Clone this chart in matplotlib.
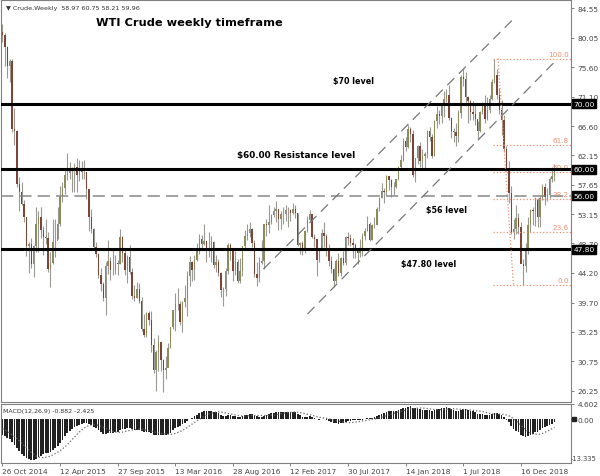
import numpy as np
import pandas as pd
import matplotlib
matplotlib.use('Agg')
import matplotlib.pyplot as plt

# 周线数据, 第一根 = 2014-10-26 那一周
start_date = '2014-10-26'

# 图表之前的收盘价 (只用于 MACD 预热)
warmup_close = [99.76, 100.0, 102.02, 104.35, 102.71, 102.66, 106.91, 107.26, 105.74, 104.06,
                100.83, 103.13, 102.09, 97.88, 97.65, 97.35, 93.65, 95.96, 93.29, 92.27,
                92.41, 93.54, 89.74, 85.82, 82.75, 81.01]

close = [80.54, 78.65, 75.82, 76.51, 66.15, 65.84, 57.81, 56.52, 54.73, 52.69,
         48.36, 48.69, 45.59, 48.24, 51.69, 52.78, 50.81, 49.76, 49.61, 44.84,
         45.72, 48.87, 49.14, 51.64, 55.74, 57.15, 59.15, 59.39, 59.69, 59.72,
         60.30, 59.13, 59.96, 59.61, 59.63, 56.93, 52.74, 50.89, 48.14, 47.12,
         43.87, 42.50, 40.45, 45.22, 46.05, 44.63, 44.68, 45.70, 45.54, 49.63,
         47.26, 44.60, 46.59, 44.29, 40.74, 40.39, 41.71, 39.97, 35.62, 34.73,
         38.10, 37.04, 33.16, 29.42, 32.19, 33.62, 30.89, 29.44, 29.64, 32.78,
         35.92, 38.50, 39.44, 39.46, 36.79, 39.72, 40.36, 43.73, 45.92, 44.66,
         46.21, 47.75, 49.33, 48.62, 49.07, 47.98, 47.64, 48.99, 45.41, 45.95,
         44.19, 41.60, 41.80, 44.49, 48.52, 47.64, 44.44, 45.88, 43.03, 44.48,
         48.24, 49.81, 50.35, 50.85, 48.70, 44.07, 43.41, 45.69, 46.06, 51.68,
         51.50, 51.90, 53.02, 53.72, 53.99, 52.37, 53.22, 53.17, 53.83, 53.86,
         53.40, 53.99, 53.33, 48.49, 48.78, 47.97, 50.60, 52.24, 53.18, 49.62,
         49.33, 46.22, 47.84, 50.33, 49.80, 47.66, 46.08, 44.74, 43.01, 46.04,
         44.23, 46.54, 45.77, 49.71, 49.58, 48.82, 48.51, 47.87, 47.29, 47.48,
         49.89, 50.66, 51.67, 49.29, 51.45, 51.47, 53.90, 55.64, 56.74, 56.55,
         58.95, 58.36, 57.36, 57.30, 58.47, 60.42, 61.44, 64.30, 63.37, 66.14,
         65.45, 59.20, 61.68, 63.55, 61.25, 62.04, 62.34, 65.88, 64.94, 62.06,
         67.39, 68.38, 68.10, 69.72, 70.70, 71.28, 67.88, 65.81, 65.74, 65.06,
         68.58, 74.15, 73.80, 71.01, 70.46, 68.69, 68.49, 67.63, 65.91, 68.72,
         69.80, 67.75, 68.99, 70.78, 73.25, 74.34, 71.34, 69.12, 67.59, 63.14,
         60.19, 56.46, 50.42, 50.93, 52.61, 51.20, 45.59, 45.33, 47.96, 51.59,
         53.80, 53.69, 55.26, 52.72, 55.59, 57.26, 55.80, 56.07, 58.52, 59.04,
         59.96]

high = [82.2, 80.8, 78.8, 76.9, 76.8, 69.4, 66.0, 58.8, 58.0, 55.4,
        52.7, 49.0, 49.5, 48.4, 54.2, 53.6, 54.2, 51.3, 52.5, 50.5,
        47.4, 52.5, 52.5, 54.2, 57.4, 58.0, 59.9, 62.5, 61.1, 60.3,
        60.9, 61.8, 61.4, 61.2, 61.5, 59.6, 56.2, 54.0, 51.1, 49.0,
        47.2, 44.9, 42.9, 45.9, 49.3, 46.6, 47.7, 47.0, 46.2, 50.9,
        49.9, 47.7, 47.0, 48.4, 45.0, 42.4, 42.8, 42.6, 40.5, 37.9,
        38.3, 38.4, 38.4, 34.3, 32.4, 34.8, 33.5, 31.1, 31.5, 33.5,
        36.0, 38.6, 41.2, 41.9, 39.9, 39.9, 42.4, 44.5, 46.8, 46.0,
        47.0, 48.8, 50.2, 50.0, 51.7, 49.1, 50.5, 49.8, 49.1, 47.0,
        46.4, 44.3, 42.0, 44.9, 48.8, 48.7, 48.0, 47.6, 46.3, 46.5,
        48.3, 50.7, 51.6, 51.9, 51.1, 49.2, 45.9, 46.6, 49.2, 51.7,
        52.4, 54.5, 53.2, 54.3, 55.2, 54.0, 53.6, 54.3, 54.5, 54.2,
        54.0, 54.9, 54.6, 53.3, 49.0, 49.1, 50.8, 52.9, 53.8, 53.2,
        50.2, 49.4, 48.0, 50.9, 52.0, 50.2, 48.6, 46.8, 44.9, 46.3,
        47.3, 46.7, 47.5, 49.8, 50.4, 50.2, 49.6, 48.8, 48.0, 49.4,
        50.3, 51.0, 52.9, 51.9, 51.6, 52.8, 54.2, 55.8, 57.9, 57.2,
        59.1, 58.9, 58.6, 58.1, 58.6, 60.5, 62.2, 64.8, 64.9, 66.7,
        66.4, 66.0, 61.8, 63.7, 64.2, 63.1, 62.7, 66.0, 66.5, 65.4,
        67.5, 69.6, 69.0, 70.0, 71.9, 72.3, 72.9, 68.0, 66.3, 67.0,
        69.0, 74.4, 75.3, 74.8, 71.2, 70.5, 70.4, 69.9, 67.4, 68.9,
        70.3, 71.4, 71.1, 71.3, 73.8, 76.9, 75.3, 72.4, 70.5, 68.3,
        63.6, 61.2, 57.5, 52.5, 54.5, 53.3, 51.9, 46.3, 48.8, 52.8,
        54.0, 54.2, 55.8, 55.6, 56.0, 57.8, 57.9, 57.2, 58.8, 60.4,
        60.75]

low = [79.4, 75.8, 73.9, 73.3, 65.7, 63.7, 57.3, 53.6, 54.5, 52.0,
       46.8, 44.2, 44.9, 43.6, 47.4, 47.4, 49.6, 47.0, 48.6, 44.4,
       42.0, 45.6, 46.7, 49.4, 51.4, 55.0, 56.3, 58.4, 58.6, 56.5,
       56.5, 56.5, 58.2, 58.6, 58.5, 55.5, 50.6, 50.3, 47.8, 46.6,
       43.5, 41.4, 39.9, 37.8, 44.1, 43.2, 43.9, 44.0, 43.9, 45.5,
       45.9, 43.9, 42.6, 44.1, 40.3, 39.9, 40.4, 39.6, 35.3, 34.5,
       34.5, 36.3, 32.1, 29.0, 26.2, 29.3, 29.3, 26.1, 28.0, 30.2,
       32.7, 35.6, 35.3, 38.6, 36.3, 35.2, 39.0, 37.6, 42.2, 43.0,
       43.1, 46.0, 47.1, 47.7, 48.4, 45.8, 46.7, 45.8, 44.9, 44.3,
       43.8, 40.6, 39.2, 40.7, 44.1, 46.2, 43.0, 43.9, 42.6, 42.7,
       43.8, 47.8, 49.2, 49.7, 48.1, 43.6, 42.2, 42.8, 45.6, 44.8,
       49.9, 50.3, 51.6, 52.8, 51.9, 50.7, 50.9, 51.7, 52.1, 51.2,
       52.2, 53.2, 52.6, 48.3, 47.1, 47.0, 47.3, 50.4, 52.1, 49.5,
       48.2, 43.8, 45.9, 47.7, 48.2, 46.8, 45.2, 44.2, 42.1, 42.7,
       43.8, 43.7, 45.4, 45.4, 48.5, 48.3, 46.5, 46.5, 45.6, 46.7,
       46.8, 49.3, 50.6, 49.1, 49.3, 51.0, 51.6, 53.7, 55.6, 54.8,
       56.1, 56.8, 55.8, 56.1, 57.1, 58.4, 60.1, 61.2, 62.8, 63.2,
       64.2, 58.8, 58.1, 60.8, 60.4, 60.1, 60.2, 61.8, 64.3, 61.8,
       62.0, 66.3, 66.9, 67.1, 68.0, 70.3, 67.5, 64.8, 64.2, 63.6,
       64.1, 67.9, 72.7, 69.6, 67.0, 67.6, 67.6, 66.7, 64.4, 65.7,
       68.5, 67.1, 67.5, 68.6, 70.5, 73.1, 70.8, 68.5, 65.3, 62.6,
       59.8, 54.8, 50.1, 49.4, 50.1, 50.1, 45.8, 42.4, 44.4, 47.1,
       50.4, 51.5, 51.3, 51.2, 51.2, 55.3, 54.5, 55.1, 55.7, 58.0,
       58.21]

# 价格刻度 (右侧)
price_ticks = [84.55, 80.05, 75.60, 71.10, 66.60, 62.15, 57.65, 53.15,
               48.70, 44.20, 39.70, 35.25, 30.75, 26.25]
macd_top = 4.602
macd_bottom = -13.335
macd_header = 'MACD(12,26,9) -0.882 -2.425'

# 水平关键位
solid_levels = [70.0, 60.0, 47.8]
dashed_level = 56.0
level_tags = ['70.00', '60.00', '56.00', '47.80']
level_tag_values = [70.0, 60.0, 56.0, 47.8]

# 通道线 (bar 序号, 价格)
channel_upper_x = [108.75, 212.9]
channel_upper_y = [44.80, 82.92]
channel_lower_x = [127.1, 230.4]
channel_lower_y = [37.94, 76.51]

# 斐波那契回撤
fib_high = 76.90
fib_low = 42.36
fib_x = [206.5, 212.9]
fib_start = 204.5
fib_levels = [0.0, 23.6, 38.2, 50.0, 61.8, 100.0]

n = len(close)
x = np.arange(n)
close_arr = np.array(close)
open_arr = np.r_[warmup_close[-1], close_arr[:-1]]
dates = pd.date_range(start_date, periods=n, freq='7D')

# MACD(12,26,9)
full = pd.Series(warmup_close + close)
macd_full = full.ewm(span=12, adjust=False).mean() - full.ewm(span=26, adjust=False).mean()
signal_full = macd_full.rolling(9).mean()
macd = macd_full.values[-n:]
signal = signal_full.values[-n:]

W, H = 600, 477
fig = plt.figure(figsize=(6, 4.77), dpi=100)
ax = fig.add_axes([1 / W, (H - 403) / H, 570 / W, 402 / H])
ax_m = fig.add_axes([1 / W, (H - 464) / H, 570 / W, 59 / H])

xlim = (-0.625, 236.9)
grey = '#808080'

# 蜡烛
bull = close_arr >= open_arr
body_colors = np.where(bull, '#8a8c5c', '#7b4537')
ax.vlines(x, low, high, colors='#9a9a92', lw=0.8, zorder=2)
ax.bar(x, close_arr - open_arr, bottom=open_arr, width=0.6, color=body_colors, lw=0, zorder=3)

# 关键位
for lv in solid_levels:
    ax.axhline(lv, color='black', lw=2.2, zorder=4)
ax.axhline(dashed_level, color='#888888', lw=1.1, dashes=(8, 4), zorder=4)

# 通道
ax.plot(channel_upper_x, channel_upper_y, color='#777777', lw=0.9, dashes=(8, 5), zorder=4)
ax.plot(channel_lower_x, channel_lower_y, color='#777777', lw=0.9, dashes=(8, 5), zorder=4)

# 斐波那契
fib_color = '#ee9070'
rng = fib_high - fib_low
ax.plot(fib_x, [fib_high, fib_low], color=fib_color, lw=0.9, ls=':', zorder=4)
for lvl in fib_levels:
    p = fib_low + lvl / 100 * rng
    ax.plot([fib_start, xlim[1]], [p, p], color=fib_color, lw=0.9, ls=':', zorder=4)
    ax.text(xlim[1] - 0.9, p + 0.25, f'{lvl:.1f}', color=fib_color, fontsize=5.2,
            ha='right', va='bottom', zorder=3)

# 文字
ax.text(78, 82.4, 'WTI Crude weekly timeframe', fontsize=8.2, fontweight='bold',
        ha='center', va='center')
ax.text(146.25, 73.6, '$70 level', fontsize=5.8, fontweight='bold', ha='center', va='center')
ax.text(122.5, 62.3, '$60.00 Resistance level', fontsize=6.4, fontweight='bold',
        ha='center', va='center')
ax.text(185, 53.95, '$56 level', fontsize=5.8, fontweight='bold', ha='center', va='center')
ax.text(177.5, 45.57, '$47.80 level', fontsize=5.8, fontweight='bold', ha='center', va='center')
ax.text(0.008, 0.987, '\u25bc Crude,Weekly  58.97 60.75 58.21 59.96', transform=ax.transAxes,
        fontsize=4.6, color='#333333', ha='left', va='top')

ax.set_xlim(xlim)
ax.set_ylim(24.53, 85.82)
ax.set_xticks([])
ax.yaxis.tick_right()
ax.set_yticks(price_ticks)
ax.set_yticklabels([f'{t:.2f}' for t in price_ticks])
ax.tick_params(axis='y', labelsize=5.3, colors=grey, labelcolor='#444444', length=2.5,
               width=0.7, pad=2)
for s in ax.spines.values():
    s.set_color(grey)
    s.set_linewidth(0.8)

for val, tag in zip(level_tag_values, level_tags):
    ax.text(1.004, val, tag, transform=ax.get_yaxis_transform(), fontsize=5.3, color='white',
            ha='left', va='center', zorder=6, clip_on=False,
            bbox=dict(boxstyle='square,pad=0.18', fc='black', ec='black'))

# MACD 窗口
ax_m.bar(x, macd, width=0.7, color='#222222', lw=0)
ax_m.plot(x, signal, color='#666666', lw=0.9, ls=':')
ax_m.set_xlim(xlim)
ax_m.set_ylim(macd_bottom, macd_top)
ax_m.yaxis.tick_right()
ax_m.set_yticks([macd_top, 0.0])
ax_m.set_yticklabels([f'{macd_top:.3f}', '0.00'])
ax_m.tick_params(axis='y', labelsize=5.3, colors=grey, labelcolor='#444444', length=2.5,
                 width=0.7, pad=2)
ax_m.text(0.999, macd_bottom + 0.6, f'{macd_bottom:.3f}', transform=ax_m.get_yaxis_transform(),
          fontsize=4.9, color='#444444', ha='left', va='bottom', clip_on=False)
ax_m.plot([1.006], [0.0], marker='s', ms=3.2, color='#222222', transform=ax_m.get_yaxis_transform(),
          clip_on=False, zorder=6)
tick_idx = list(range(0, n, 24))
ax_m.set_xticks(tick_idx)
ax_m.set_xticklabels([f"{dates[i].day} {dates[i].strftime('%b %Y')}" for i in tick_idx],
                     ha='left')
ax_m.tick_params(axis='x', labelsize=5.3, colors=grey, labelcolor='#444444', length=2.5,
                 width=0.7, pad=1)
for s in ax_m.spines.values():
    s.set_color(grey)
    s.set_linewidth(0.8)
ax_m.text(0.004, 0.93, macd_header, transform=ax_m.transAxes, fontsize=4.5, color='#333333',
          ha='left', va='top')

fig.savefig('out.png', dpi=100)
